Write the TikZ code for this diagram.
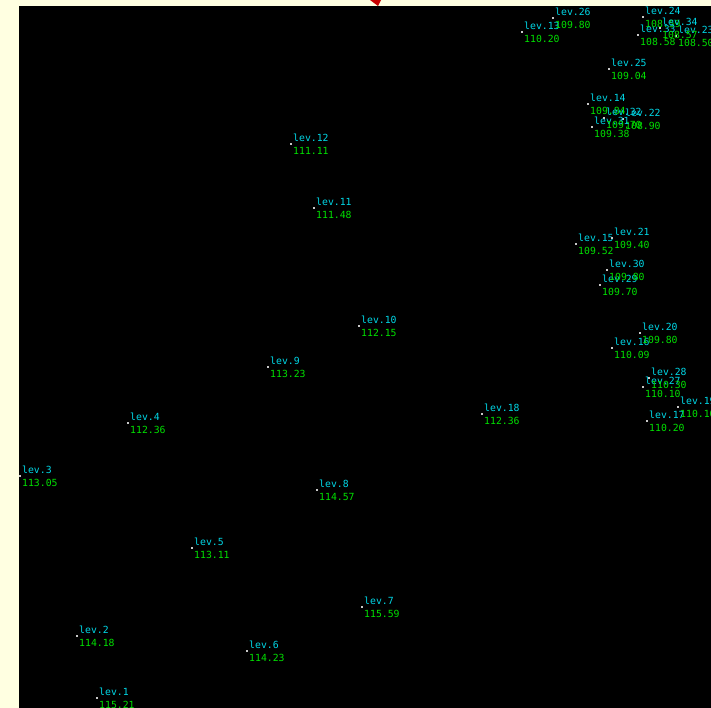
\documentclass[tikz,border=0pt]{standalone}
\usepackage{fontspec}
\newfontfamily\pix{DejaVu Sans Mono}
\definecolor{cream}{RGB}{255,255,225}
\definecolor{levcyan}{RGB}{0,215,230}
\definecolor{valgreen}{RGB}{0,225,0}
\definecolor{dotgray}{RGB}{200,200,200}
\definecolor{markred}{RGB}{200,0,0}
\tikzset{
  x=1pt,y=-1pt,
  levlabel/.style={text=levcyan,font=\pix\fontsize{9.8}{9.8}\selectfont,anchor=west,inner sep=0pt},
  vallabel/.style={text=valgreen,font=\pix\fontsize{9.8}{9.8}\selectfont,anchor=west,inner sep=0pt},
  stationdot/.style={fill=dotgray,inner sep=0pt,minimum size=1.6pt,rectangle}
}
\begin{document}
\begin{tikzpicture}
\useasboundingbox (0,0) rectangle (711,708);
\clip (0,0) rectangle (711,708);
\fill[cream] (0,0) rectangle (711,708);
\fill[black] (19,6) rectangle (711,708);
\fill[markred] (370,0) -- (381,0) -- (378,6) -- cycle;
\foreach \n/\px/\py/\lab/\val in {
 1/97/698/lev.1/115.21,
 2/77/636/lev.2/114.18,
 3/20/476/lev.3/113.05,
 4/128/423/lev.4/112.36,
 5/192/548/lev.5/113.11,
 6/247/651/lev.6/114.23,
 7/362/607/lev.7/115.59,
 8/317/490/lev.8/114.57,
 9/268/367/lev.9/113.23,
 10/359/326/lev.10/112.15,
 11/314/208/lev.11/111.48,
 12/291/144/lev.12/111.11,
 13/522/32/lev.13/110.20,
 14/588/104/lev.14/109.84,
 15/576/244/lev.15/109.52,
 16/612/348/lev.16/110.09,
 17/647/421/lev.17/110.20,
 18/482/414/lev.18/112.36,
 19/678/407/lev.19/110.10,
 20/640/333/lev.20/109.80,
 21/612/238/lev.21/109.40,
 22/623/119/lev.22/108.90,
 23/676/36/lev.23/108.50,
 24/643/17/lev.24/108.59,
 25/609/69/lev.25/109.04,
 26/553/18/lev.26/109.80,
 27/643/387/lev.27/110.10,
 28/649/378/lev.28/110.30,
 29/600/285/lev.29/109.70,
 30/607/270/lev.30/109.80,
 31/592/127/lev.31/109.38,
 32/604/118/lev.32/109.70,
 33/638/35/lev.33/108.58,
 34/660/28/lev.34/108.57} {
  \node[stationdot] (d\n) at (\px,\py) {};
  \node[levlabel] (l\n) at (\px+2,\py-6.5) {\lab};
  \node[vallabel] (v\n) at (\px+2,\py+6.5) {\val};
}
\end{tikzpicture}
\end{document}
